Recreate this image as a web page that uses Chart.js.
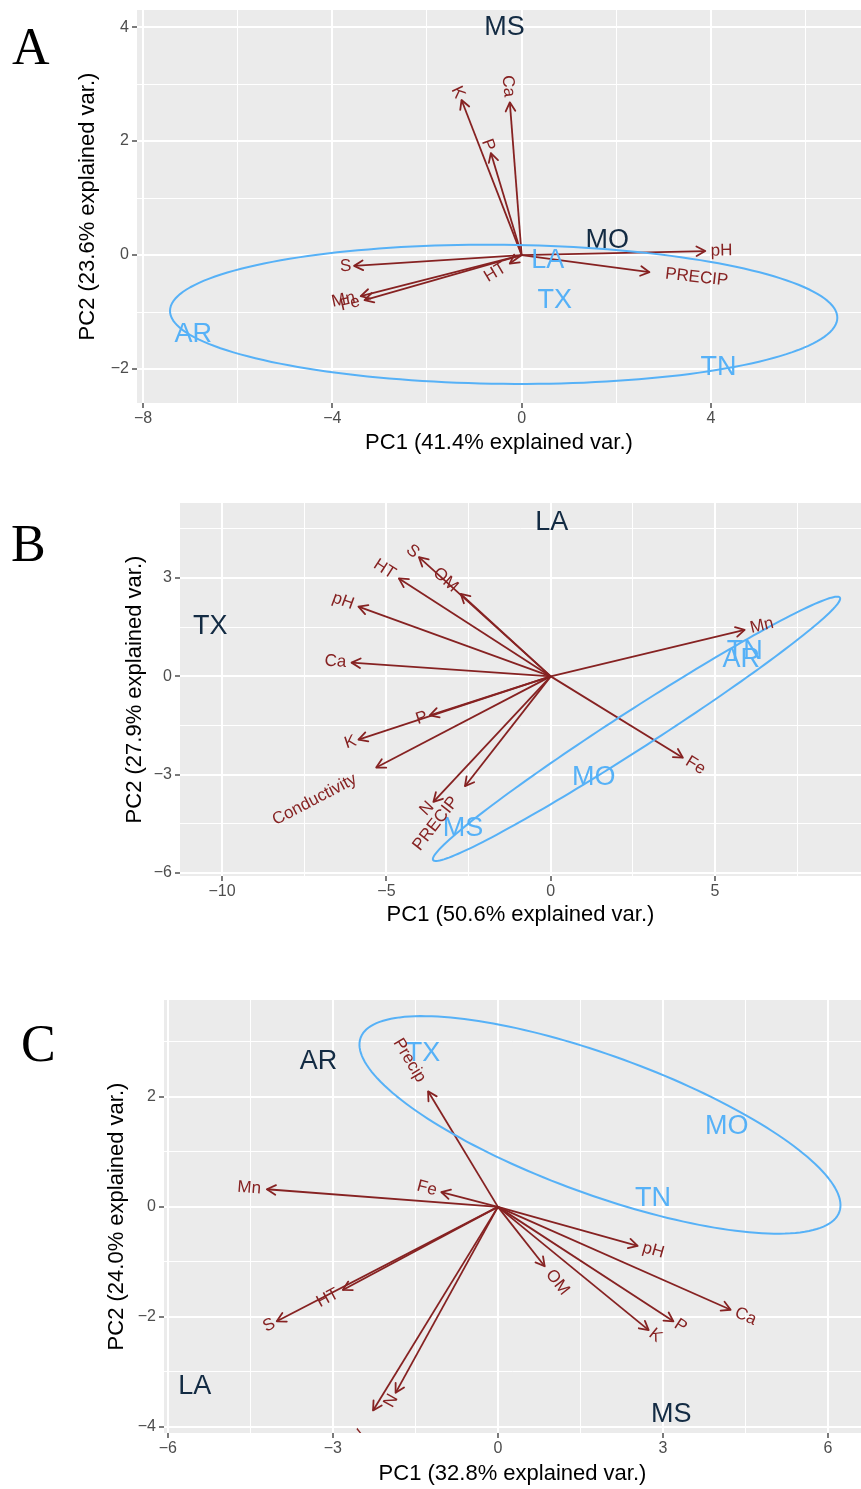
<!DOCTYPE html>
<html lang="en">
<head>
<meta charset="UTF-8">
<script src="https://cdn.jsdelivr.net/npm/chart.js@4.4.0/dist/chart.umd.min.js"></script>
<title>PCA biplots</title>
<style>
  body { margin: 0; background: #fff; width: 861px; height: 1489px; position: relative; overflow: hidden; }
  canvas { position: absolute; left: 0; }
  .letter { position: absolute; font-family: "Liberation Serif", "Times New Roman", serif; font-size: 52px; line-height: 52px; color: #000; }
</style>
</head>
<body>
<canvas id="chartA" width="861" height="460" style="top:0px"></canvas>
<canvas id="chartB" width="861" height="480" style="top:460px"></canvas>
<canvas id="chartC" width="861" height="549" style="top:940px"></canvas>
<div class="letter" style="left:12px;top:21px">A</div>
<div class="letter" style="left:11px;top:518px">B</div>
<div class="letter" style="left:21px;top:1018px">C</div>
<script>
// panel A
const aXTitle = 'PC1 (41.4% explained var.)';
const aYTitle = 'PC2 (23.6% explained var.)';
const aGroupNames = ['MS', 'MO', 'LA', 'TX', 'AR', 'TN'];
const aGroupX = [-0.36, 1.81, 0.55, 0.70, -6.94, 4.16];
const aGroupY = [4.00, 0.26, -0.10, -0.79, -1.40, -1.98];
const aGroupClass = [0, 0, 1, 1, 1, 1];
const aVarNames = ['Ca', 'K', 'P', 'pH', 'PRECIP', 'S', 'Mn', 'Fe', 'HT'];
const aVarX = [-0.25, -1.27, -0.65, 3.88, 2.70, -3.54, -3.40, -3.32, -0.25];
const aVarY = [2.68, 2.72, 1.79, 0.07, -0.30, -0.19, -0.72, -0.79, -0.15];
const aEllipse = [-0.38, -1.04, 7.05, 1.22, -0.5]; // cx, cy, semi-axis a, semi-axis b, angle in degrees
const aXTicks = [-8, -6, -4, -2, 0, 2, 4, 6];
const aXLabels = [-8, -4, 0, 4];
const aYTicks = [-2, -1, 0, 1, 2, 3, 4];
const aYLabels = [-2, 0, 2, 4];

// panel B
const bXTitle = 'PC1 (50.6% explained var.)';
const bYTitle = 'PC2 (27.9% explained var.)';
const bGroupNames = ['LA', 'TX', 'TN', 'AR', 'MO', 'MS'];
const bGroupX = [0.03, -10.36, 5.90, 5.80, 1.31, -2.67];
const bGroupY = [4.70, 1.52, 0.76, 0.52, -3.08, -4.63];
const bGroupClass = [0, 0, 1, 1, 1, 1];
const bVarNames = ['S', 'OM', 'HT', 'pH', 'Ca', 'Mn', 'Fe', 'P', 'K', 'Conductivity', 'N', 'PRECIP'];
const bVarX = [-4.01, -2.74, -4.62, -5.85, -6.06, 5.90, 4.02, -3.68, -5.85, -5.31, -3.57, -2.61];
const bVarY = [3.64, 2.52, 2.99, 2.13, 0.42, 1.42, -2.48, -1.19, -1.93, -2.78, -3.83, -3.35];
const bEllipse = [2.61, -1.60, 7.37, 0.58, 32.9];
const bXTicks = [-10, -7.5, -5, -2.5, 0, 2.5, 5, 7.5];
const bXLabels = [-10, -5, 0, 5];
const bYTicks = [-6, -4.5, -3, -1.5, 0, 1.5, 3, 4.5];
const bYLabels = [-6, -3, 0, 3];

// panel C
const cXTitle = 'PC1 (32.8% explained var.)';
const cYTitle = 'PC2 (24.0% explained var.)';
const cGroupNames = ['AR', 'TX', 'MO', 'TN', 'LA', 'MS'];
const cGroupX = [-3.26, -1.36, 4.16, 2.82, -5.51, 3.15];
const cGroupY = [2.65, 2.79, 1.46, 0.16, -3.27, -3.78];
const cGroupClass = [0, 1, 1, 1, 0, 0];
const cVarNames = ['Precip', 'Mn', 'Fe', 'pH', 'OM', 'Ca', 'P', 'K', 'HT', 'S', 'N', 'Conductivity'];
const cVarX = [-1.27, -4.20, -1.03, 2.54, 0.85, 4.23, 3.19, 2.74, -2.82, -4.02, -1.86, -2.27];
const cVarY = [2.10, 0.32, 0.27, -0.71, -1.08, -1.87, -2.08, -2.24, -1.51, -2.08, -3.38, -3.70];
const cEllipse = [1.855, 1.49, 4.63, 1.26, -20];
const cXTicks = [-6, -4.5, -3, -1.5, 0, 1.5, 3, 4.5, 6];
const cXLabels = [-6, -3, 0, 3, 6];
const cYTicks = [-4, -3, -2, -1, 0, 1, 2, 3];
const cYLabels = [-4, -2, 0, 2];

const FONT = '"Liberation Sans", Arial, sans-serif';
const RED = '#862222';
const CLASS_COLORS = ['#132B43', '#56B1F7'];
Chart.defaults.font.family = FONT;

// grey panel, arrow heads, group names, ellipse and variable names
const biplot = {
    id: 'biplot',
    beforeDraw(chart) {
        const {ctx, chartArea: a} = chart;
        ctx.save();
        ctx.fillStyle = '#EBEBEB';
        ctx.fillRect(a.left, a.top, a.right - a.left, a.bottom - a.top);
        ctx.restore();
    },
    afterDatasetsDraw(chart, args, opts) {
        const {ctx, chartArea: a, scales: {x, y}} = chart;
        ctx.save();
        ctx.beginPath();
        ctx.rect(a.left, a.top, a.right - a.left, a.bottom - a.top);
        ctx.clip();

        // arrow heads
        chart.data.datasets.forEach((ds, i) => {
            if (ds.kind !== 'arrow') return;
            const [o, t] = chart.getDatasetMeta(i).data;
            const ang = Math.atan2(t.y - o.y, t.x - o.x);
            ctx.strokeStyle = RED;
            ctx.lineWidth = 1.8;
            ctx.lineCap = 'round';
            ctx.lineJoin = 'round';
            ctx.beginPath();
            ctx.moveTo(t.x + 10 * Math.cos(ang + Math.PI - 0.5), t.y + 10 * Math.sin(ang + Math.PI - 0.5));
            ctx.lineTo(t.x, t.y);
            ctx.lineTo(t.x + 10 * Math.cos(ang + Math.PI + 0.5), t.y + 10 * Math.sin(ang + Math.PI + 0.5));
            ctx.stroke();
        });

        // group names
        chart.data.datasets.forEach((ds, i) => {
            if (ds.kind !== 'groups') return;
            ctx.font = '27px ' + FONT;
            ctx.textAlign = 'center';
            ctx.textBaseline = 'middle';
            chart.getDatasetMeta(i).data.forEach((pt, k) => {
                ctx.fillStyle = CLASS_COLORS[ds.cls[k]];
                ctx.fillText(ds.names[k], pt.x, pt.y);
            });
        });

        // ellipse
        const [cx, cy, ea, eb, deg] = opts.ellipse;
        const th = deg * Math.PI / 180;
        ctx.beginPath();
        for (let k = 0; k <= 180; k++) {
            const t = k / 180 * 2 * Math.PI;
            const ex = cx + ea * Math.cos(t) * Math.cos(th) - eb * Math.sin(t) * Math.sin(th);
            const ey = cy + ea * Math.cos(t) * Math.sin(th) + eb * Math.sin(t) * Math.cos(th);
            const px = x.getPixelForValue(ex), py = y.getPixelForValue(ey);
            if (k === 0) ctx.moveTo(px, py); else ctx.lineTo(px, py);
        }
        ctx.strokeStyle = CLASS_COLORS[1];
        ctx.lineWidth = 2;
        ctx.stroke();

        // variable names, rotated along the arrow like ggbiplot
        ctx.font = '17px ' + FONT;
        ctx.fillStyle = RED;
        ctx.textBaseline = 'middle';
        chart.data.datasets.forEach((ds, i) => {
            if (ds.kind !== 'arrow') return;
            const t = chart.getDatasetMeta(i).data[1];
            const vx = ds.data[1].x, vy = ds.data[1].y;
            const w = ctx.measureText(ds.label).width;
            ctx.save();
            ctx.translate(t.x, t.y);
            ctx.rotate(-Math.atan(vy / vx));
            if (vx > 0) {
                ctx.textAlign = 'left';
                ctx.fillText(ds.label, 0.25 * w, 0);
            } else {
                ctx.textAlign = 'right';
                ctx.fillText(ds.label, -0.25 * w, 0);
            }
            ctx.restore();
        });
        ctx.restore();
    }
};

function fmt(v) {
    return String(v).replace('-', '\u2212');
}

function axis(dir, p) {
    const grid = dir === 'x' ? p.xTicks : p.yTicks;
    const major = dir === 'x' ? p.xLabels : p.yLabels;
    const isMajor = c => c.tick && major.includes(c.tick.value);
    return {
        type: 'linear',
        min: dir === 'x' ? p.xMin : p.yMin,
        max: dir === 'x' ? p.xMax : p.yMax,
        afterBuildTicks: s => { s.ticks = grid.map(v => ({value: v})); },
        afterFit: s => {
            if (dir === 'x') s.height = p.xAxisH; else s.width = p.yAxisW;
            s.paddingLeft = s.paddingRight = s.paddingTop = s.paddingBottom = 0;
        },
        ticks: {
            autoSkip: false, maxRotation: 0, minRotation: 0,
            padding: dir === 'x' ? 1 : 3,
            color: '#4D4D4D',
            font: {size: 16},
            callback: v => major.includes(v) ? fmt(v) : ''
        },
        grid: {
            color: '#FFFFFF',
            lineWidth: c => isMajor(c) ? 2 : 1,
            tickColor: c => isMajor(c) ? '#333333' : 'rgba(0,0,0,0)',
            tickLength: 5,
            tickWidth: 1.3
        },
        border: {display: false},
        title: {
            display: true,
            text: dir === 'x' ? p.xTitle : p.yTitle,
            color: '#000000',
            font: {size: 22},
            padding: dir === 'x' ? {top: 0, bottom: p.xTitlePad} : {top: p.yTitlePad, bottom: 0}
        }
    };
}

function biplotChart(id, p) {
    const datasets = p.varNames.map((name, i) => ({
        kind: 'arrow',
        label: name,
        data: [{x: 0, y: 0}, {x: p.varX[i], y: p.varY[i]}],
        showLine: true,
        borderColor: RED,
        borderWidth: 1.8,
        pointRadius: 0
    }));
    datasets.push({
        kind: 'groups',
        label: 'groups',
        names: p.groupNames,
        cls: p.groupClass,
        data: p.groupX.map((gx, i) => ({x: gx, y: p.groupY[i]})),
        pointRadius: 0
    });
    return new Chart(document.getElementById(id), {
        type: 'scatter',
        data: {datasets},
        options: {
            responsive: false,
            animation: false,
            events: [],
            layout: {padding: {top: p.top, left: 0, right: 0, bottom: 0}},
            plugins: {
                legend: {display: false},
                tooltip: {enabled: false},
                biplot: {ellipse: p.ellipse}
            },
            scales: {x: axis('x', p), y: axis('y', p)}
        },
        plugins: [biplot]
    });
}

biplotChart('chartA', {
    groupNames: aGroupNames, groupX: aGroupX, groupY: aGroupY, groupClass: aGroupClass,
    varNames: aVarNames, varX: aVarX, varY: aVarY, ellipse: aEllipse,
    xTicks: aXTicks, xLabels: aXLabels, yTicks: aYTicks, yLabels: aYLabels,
    xTitle: aXTitle, yTitle: aYTitle,
    xMin: -8.127, xMax: 7.17, yMin: -2.596, yMax: 4.30,
    top: 10, xAxisH: 57, yAxisW: 137, xTitlePad: 3.8, yTitlePad: 74.8
});

biplotChart('chartB', {
    groupNames: bGroupNames, groupX: bGroupX, groupY: bGroupY, groupClass: bGroupClass,
    varNames: bVarNames, varX: bVarX, varY: bVarY, ellipse: bEllipse,
    xTicks: bXTicks, xLabels: bXLabels, yTicks: bYTicks, yLabels: bYLabels,
    xTitle: bXTitle, yTitle: bYTitle,
    xMin: -11.28, xMax: 9.44, yMin: -6.09, yMax: 5.29,
    top: 43, xAxisH: 64, yAxisW: 180, xTitlePad: 11.8, yTitlePad: 121.8
});

biplotChart('chartC', {
    groupNames: cGroupNames, groupX: cGroupX, groupY: cGroupY, groupClass: cGroupClass,
    varNames: cVarNames, varX: cVarX, varY: cVarY, ellipse: cEllipse,
    xTicks: cXTicks, xLabels: cXLabels, yTicks: cYTicks, yLabels: cYLabels,
    xTitle: cXTitle, yTitle: cYTitle,
    xMin: -6.07, xMax: 6.6, yMin: -4.11, yMax: 3.76,
    top: 60, xAxisH: 56, yAxisW: 164, xTitlePad: 1.8, yTitlePad: 103.8
});
</script>
</body>
</html>
